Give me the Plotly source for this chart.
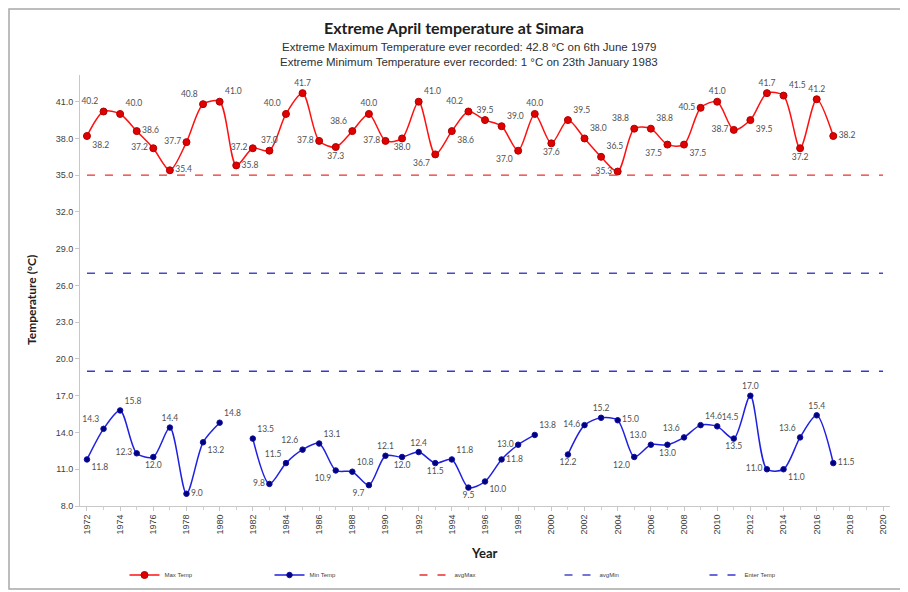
import plotly.graph_objects as go

years = list(range(1972, 2018))
max_temp = [38.2, 40.2, 40.0, 38.6, 37.2, 35.4, 37.7, 40.8, 41.0, 35.8,
            37.2, 37.0, 40.0, 41.7, 37.8, 37.3, 38.6, 40.0, 37.8, 38.0,
            41.0, 36.7, 38.6, 40.2, 39.5, 39.0, 37.0, 40.0, 37.6, 39.5,
            38.0, 36.5, 35.3, 38.8, 38.8, 37.5, 37.5, 40.5, 41.0, 38.7,
            39.5, 41.7, 41.5, 37.2, 41.2, 38.2]
min_temp = [11.8, 14.3, 15.8, 12.3, 12.0, 14.4, 9.0, 13.2, 14.8, None,
            13.5, 9.8, 11.5, 12.6, 13.1, 10.9, 10.8, 9.7, 12.1, 12.0,
            12.4, 11.5, 11.8, 9.5, 10.0, 11.8, 13.0, 13.8, None, 12.2,
            14.6, 15.2, 15.0, 12.0, 13.0, 13.0, 13.6, 14.6, 14.5, 13.5,
            17.0, 11.0, 11.0, 13.6, 15.4, 11.5]
line_years = [1972, 2020]
avg_max = [35.0, 35.0]
avg_min = [27.0, 27.0]
enter_temp = [19.0, 19.0]

y_ticks = [8, 11, 14, 17, 20, 23, 26, 29, 32, 35, 38, 41]
x_ticks = list(range(1972, 2021, 2))

max_pos = ["bottom right", "top left", "top right", "middle right", "middle left",
           "middle right", "middle left", "top left", "top right", "middle right",
           "middle left", "top center", "top left", "top center", "middle left",
           "bottom center", "top left", "top center", "middle left", "bottom center",
           "top right", "bottom left", "bottom right", "top left", "top center",
           "top right", "bottom left", "top center", "bottom center", "top right",
           "top right", "top right", "middle left", "top left", "top right",
           "bottom left", "bottom right", "middle left", "top center", "middle left",
           "bottom right", "top center", "top right", "bottom center", "top center",
           "middle right"]
min_pos = ["bottom right", "top left", "top right", "middle left", "bottom center",
           "top center", "middle right", "bottom right", "top right", "top center",
           "top right", "middle left", "top left", "top left", "top right",
           "bottom left", "top right", "bottom left", "top center", "bottom center",
           "top center", "bottom center", "top right", "bottom center", "bottom right",
           "middle right", "middle left", "top right", "top center", "bottom center",
           "middle left", "top center", "middle right", "bottom left", "top left",
           "bottom center", "top left", "top right", "top right", "bottom center",
           "top center", "middle left", "bottom right", "top left", "top center",
           "middle right"]

label_font = dict(family="Lato, DejaVu Sans", size=8.5, color="#505050")

fig = go.Figure()
fig.add_trace(go.Scatter(
    x=years, y=max_temp, name="Max Temp", mode="lines+markers+text",
    line=dict(color="#FF1010", width=1.5, shape="spline", smoothing=0.8),
    marker=dict(color="#E00000", size=7, line=dict(color="#B00000", width=1)),
    text=[f"{v:.1f}" for v in max_temp], textposition=max_pos,
    textfont=label_font, cliponaxis=False))
fig.add_trace(go.Scatter(
    x=years, y=min_temp, name="Min Temp", mode="lines+markers+text",
    line=dict(color="#2020E0", width=1.5, shape="spline", smoothing=0.8),
    marker=dict(color="#000080", size=5.5, line=dict(color="#1010A0", width=1)),
    text=[("" if v is None else f"{v:.1f}") for v in min_temp], textposition=min_pos,
    textfont=label_font, connectgaps=False, cliponaxis=False))
fig.add_trace(go.Scatter(
    x=line_years, y=avg_max, name="avgMax", mode="lines",
    line=dict(color="#E83030", width=1.3, dash="8px,10px")))
fig.add_trace(go.Scatter(
    x=line_years, y=avg_min, name="avgMin", mode="lines",
    line=dict(color="#4848C8", width=1.3, dash="8px,10px")))
fig.add_trace(go.Scatter(
    x=line_years, y=enter_temp, name="Enter Temp", mode="lines",
    line=dict(color="#3838D0", width=1.3, dash="8px,10px")))

# page has an 8px body margin: figure is 900x584, page coords = fig coords + 8
OFF = 8
W, H = 900, 584
PL, PR, PT, PB = 80, 890, 75, 506   # plot area edges in page pixels
L, R, T, B = PL - OFF, W - (PR - OFF), PT - OFF, H - (PB - OFF)
pw, ph = PR - PL, PB - PT

def px(xp):
    return (xp - PL) / pw

def py(yp):
    return (PB - yp) / ph

fig.update_layout(
    width=W, height=H,
    margin=dict(l=L, r=R, t=T, b=B, autoexpand=False),
    paper_bgcolor="white", plot_bgcolor="white",
    showlegend=True,
    legend=dict(orientation="h", x=px(487), xanchor="center", y=py(575), yanchor="middle",
                font=dict(family="Liberation Sans", size=6, color="#404040"),
                entrywidth=100, entrywidthmode="pixels", itemwidth=30,
                bgcolor="rgba(0,0,0,0)"),
    xaxis=dict(range=[1971.58, 2020.42], tickmode="array", tickvals=x_ticks,
               ticktext=[str(v) for v in x_ticks], tickangle=-90,
               tickfont=dict(family="Liberation Sans", size=9, color="#404040"),
               showgrid=False, zeroline=False, showline=True, linecolor="#C8C8C8",
               ticks="outside", ticklen=4, tickcolor="#C8C8C8",
               minor=dict(dtick=1, ticks="outside", ticklen=3, tickcolor="#D0D0D0")),
    yaxis=dict(range=[8, 43.18], tickmode="array", tickvals=y_ticks,
               ticktext=[f"{v:.1f}" for v in y_ticks],
               tickfont=dict(family="Liberation Sans", size=9, color="#404040"),
               showgrid=False, zeroline=False, showline=True, linecolor="#C8C8C8",
               ticks="outside", ticklen=4, tickcolor="#C8C8C8"),
    shapes=[dict(type="rect", xref="paper", yref="paper",
                 x0=px(9), x1=px(904), y0=py(589), y1=py(9),
                 line=dict(color="#A8A8A8", width=1.5), fillcolor="rgba(0,0,0,0)",
                 layer="below")],
    annotations=[
        dict(text="<b>Extreme April temperature at Simara</b>", xref="paper", yref="paper",
             x=px(454), y=py(27), xanchor="center", yanchor="middle", showarrow=False,
             font=dict(family="Lato, Open Sans", size=16, color="#202020")),
        dict(text="Extreme Maximum Temperature ever recorded: 42.8 °C on 6th June 1979",
             xref="paper", yref="paper", x=px(469), y=py(47), xanchor="center",
             yanchor="middle", showarrow=False,
             font=dict(family="Liberation Sans", size=11.5, color="#303030")),
        dict(text="Extreme Minimum Temperature ever recorded: 1 °C on 23th January 1983",
             xref="paper", yref="paper", x=px(469), y=py(62), xanchor="center",
             yanchor="middle", showarrow=False,
             font=dict(family="Liberation Sans", size=11.5, color="#303030")),
        dict(text="<b>Year</b>", xref="paper", yref="paper", x=px(484), y=py(553),
             xanchor="center", yanchor="middle", showarrow=False,
             font=dict(family="Lato, Open Sans", size=13, color="#202020")),
        dict(text="<b>Temperature (°C)</b>", xref="paper", yref="paper", x=px(31), y=py(300),
             xanchor="center", yanchor="middle", showarrow=False, textangle=-90,
             font=dict(family="Lato, Open Sans", size=12, color="#202020")),
    ],
)

fig.write_html("out.html")
